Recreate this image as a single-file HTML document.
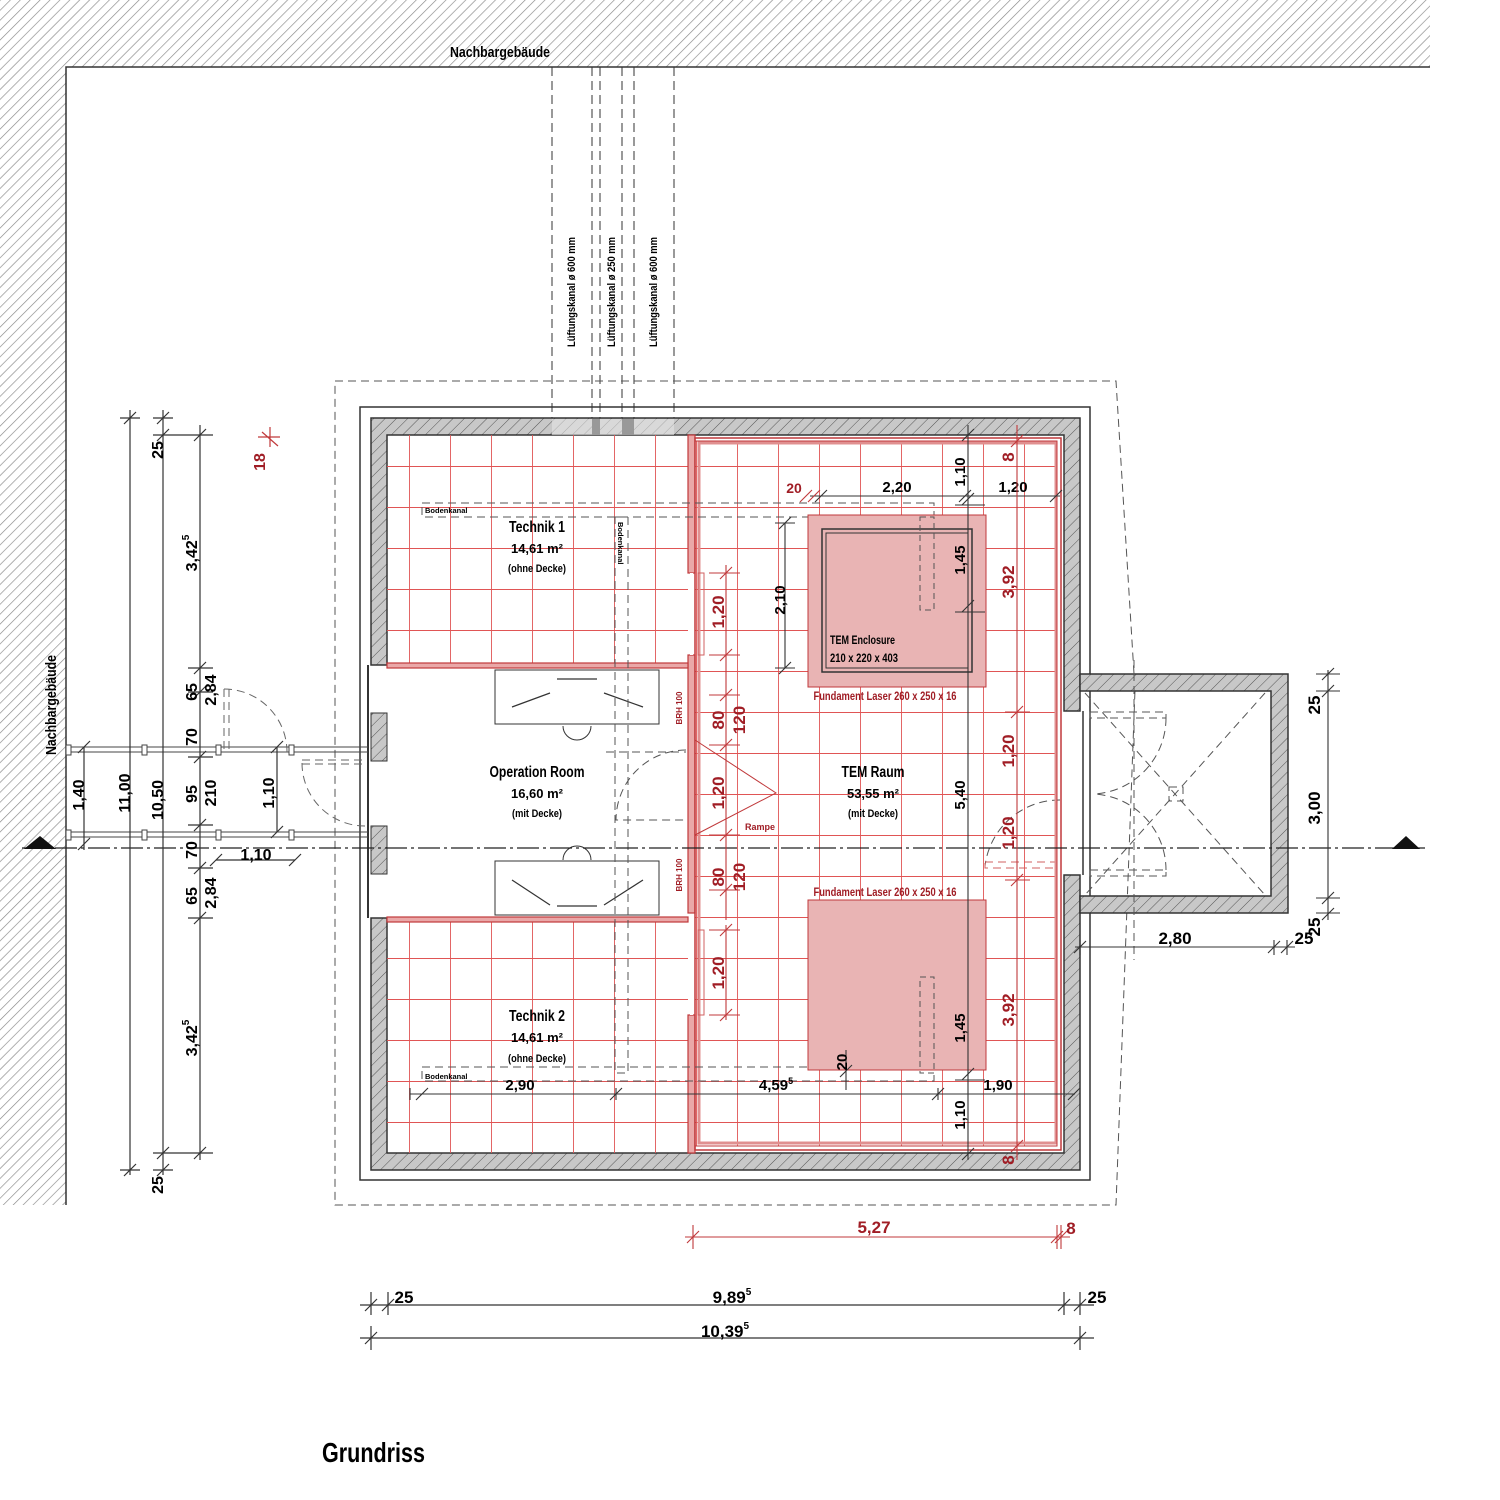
<!DOCTYPE html>
<html><head><meta charset="utf-8"><style>
html,body{margin:0;padding:0;background:#fff}
svg{display:block}
text{font-family:"Liberation Sans Narrow","Liberation Sans",sans-serif;font-weight:bold}
</style></head><body>
<svg width="1500" height="1500" viewBox="0 0 1500 1500" xmlns="http://www.w3.org/2000/svg">
<defs>
<pattern id="hatch" width="7" height="7" patternUnits="userSpaceOnUse" patternTransform="rotate(45)">
<rect width="7" height="7" fill="#fff"/><line x1="0" y1="0" x2="0" y2="7" stroke="#888" stroke-width="1.3"/></pattern>
<pattern id="whatch" width="8" height="8" patternUnits="userSpaceOnUse" patternTransform="rotate(45)">
<rect width="8" height="8" fill="#c8c8c8"/><line x1="0" y1="0" x2="0" y2="8" stroke="#555" stroke-width="1"/></pattern>
<pattern id="grid" x="409" y="466" width="41" height="41" patternUnits="userSpaceOnUse">
<line x1="0.5" y1="0" x2="0.5" y2="41" stroke="#e05555" stroke-width="0.9"/>
<line x1="0" y1="0.5" x2="41" y2="0.5" stroke="#e05555" stroke-width="0.9"/></pattern>
</defs>

<rect x="0" y="0" width="1430" height="67" fill="url(#hatch)"/>
<rect x="0" y="0" width="66" height="1205" fill="url(#hatch)"/>
<polyline points="66,1205 66,67 1430,67" fill="none" stroke="#333" stroke-width="1.5"/>
<text x="500" y="57" font-size="15" text-anchor="middle" textLength="100" lengthAdjust="spacingAndGlyphs">Nachbargebäude</text>
<text transform="translate(56,705) rotate(-90)" font-size="15" text-anchor="middle" textLength="100" lengthAdjust="spacingAndGlyphs">Nachbargebäude</text>

<g stroke="#333" stroke-width="1" stroke-dasharray="9,5" fill="none">
<line x1="552" y1="67" x2="552" y2="435"/><line x1="592" y1="67" x2="592" y2="435"/>
<line x1="600" y1="67" x2="600" y2="435"/><line x1="622" y1="67" x2="622" y2="435"/>
<line x1="634" y1="67" x2="634" y2="435"/><line x1="674" y1="67" x2="674" y2="435"/>
</g>
<text transform="translate(575,292) rotate(-90)" font-size="11" text-anchor="middle" textLength="110" lengthAdjust="spacingAndGlyphs">Lüftungskanal ø 600 mm</text>
<text transform="translate(615,292) rotate(-90)" font-size="11" text-anchor="middle" textLength="110" lengthAdjust="spacingAndGlyphs">Lüftungskanal ø 250 mm</text>
<text transform="translate(657,292) rotate(-90)" font-size="11" text-anchor="middle" textLength="110" lengthAdjust="spacingAndGlyphs">Lüftungskanal ø 600 mm</text>

<polygon points="335,381 1116,381 1135,690 1116,1205 335,1205" fill="none" stroke="#555" stroke-width="1" stroke-dasharray="8,5"/>
<rect x="360" y="407" width="730" height="773" fill="none" stroke="#333" stroke-width="1.5"/>

<path d="M371,418 H1080 V711 H1064 V435 H387 V665 H371 Z" fill="url(#whatch)" stroke="#333" stroke-width="1.5"/>
<path d="M371,918 H387 V1153 H1064 V875 H1080 V1170 H371 Z" fill="url(#whatch)" stroke="#333" stroke-width="1.5"/>
<rect x="552" y="419" width="122" height="16" fill="#e4e4e4" opacity="0.6"/>
<rect x="592" y="419" width="8" height="16" fill="#999"/><rect x="622" y="419" width="12" height="16" fill="#999"/>
<rect x="371" y="713" width="16" height="48" fill="url(#whatch)" stroke="#333"/>
<rect x="371" y="826" width="16" height="48" fill="url(#whatch)" stroke="#333"/>
<line x1="368" y1="665" x2="368" y2="918" stroke="#333" stroke-width="2"/>

<path d="M1080,674 H1288 V913 H1080 V896 H1271 V691 H1080 Z" fill="url(#whatch)" stroke="#333" stroke-width="1.5"/>
<line x1="1083" y1="711" x2="1083" y2="875" stroke="#333" stroke-width="1.5"/>
<g stroke="#555" stroke-width="1" stroke-dasharray="8,5" fill="none">
<line x1="1085" y1="693" x2="1265" y2="895"/><line x1="1265" y1="693" x2="1085" y2="895"/>
<line x1="1134" y1="660" x2="1134" y2="960"/>
<rect x="1090" y="712" width="76" height="6"/><rect x="1090" y="870" width="76" height="6"/>
<path d="M1166,718 A76,76 0 0 1 1094,794"/><path d="M1166,870 A76,76 0 0 0 1094,794"/>
<rect x="1169" y="787" width="14" height="14"/>
<path d="M1060,800 A75,75 0 0 0 985,866"/>
<rect x="985" y="862" width="70" height="6" stroke="#d06060"/>
</g>

<rect x="387" y="435" width="301" height="228" fill="url(#grid)"/>
<rect x="387" y="922" width="301" height="231" fill="url(#grid)"/>
<rect x="695" y="441" width="362" height="705" fill="url(#grid)"/>

<g fill="#eaa8a8" stroke="#c0393b" stroke-width="1.2">
<rect x="688" y="435" width="7" height="138"/>
<rect x="688" y="655" width="7" height="258"/>
<rect x="688" y="1015" width="7" height="138"/>
<rect x="387" y="663" width="301" height="5"/>
<rect x="387" y="917" width="301" height="5"/>
</g>
<rect x="690" y="573" width="3" height="82" fill="#fff"/>
<rect x="690" y="930" width="3" height="85" fill="#fff"/>
<rect x="695" y="438" width="366" height="712" fill="none" stroke="#c0393b" stroke-width="1.5"/>
<rect x="699" y="443" width="357" height="700" fill="none" stroke="#e09090" stroke-width="3"/>
<rect x="695" y="441" width="362" height="705" fill="none" stroke="#c0393b" stroke-width="1"/>
<polyline points="695,740 776,793 695,835" fill="none" stroke="#c0393b" stroke-width="1"/>
<text x="760" y="830" font-size="9" fill="#a01d25" text-anchor="middle">Rampe</text>
<text transform="translate(682,708) rotate(-90)" font-size="8" fill="#a01d25" text-anchor="middle">BRH 100</text>
<text transform="translate(682,875) rotate(-90)" font-size="8" fill="#a01d25" text-anchor="middle">BRH 100</text>
<rect x="698" y="573" width="6" height="82" fill="none" stroke="#d06060"/>
<rect x="698" y="930" width="6" height="85" fill="none" stroke="#d06060"/>

<rect x="495" y="670" width="164" height="54" fill="#fff" stroke="#333"/>
<rect x="495" y="861" width="164" height="54" fill="#fff" stroke="#333"/>
<g stroke="#333" stroke-width="1.2"><line x1="512" y1="707" x2="550" y2="693"/><line x1="557" y1="679" x2="597" y2="679"/><line x1="604" y1="693" x2="643" y2="707"/>
<line x1="512" y1="880" x2="550" y2="905"/><line x1="557" y1="906" x2="597" y2="906"/><line x1="604" y1="905" x2="643" y2="880"/></g>
<path d="M563,726 A14,14 0 0 0 591,726" fill="none" stroke="#333"/>
<path d="M563,860 A14,14 0 0 1 591,860" fill="none" stroke="#333"/>
<g stroke="#555" stroke-width="1" stroke-dasharray="8,5" fill="none">
<path d="M686,750 A70,70 0 0 0 616,820 L686,820"/>
<line x1="606" y1="752" x2="686" y2="752"/>
<rect x="422" y="503" width="512" height="14"/><rect x="615" y="517" width="13" height="556"/>
<rect x="422" y="1067" width="512" height="14"/>
</g>
<text x="425" y="513" font-size="7.5">Bodenkanal</text>
<text x="425" y="1079" font-size="7.5">Bodenkanal</text>
<text transform="translate(618,522) rotate(90)" font-size="7.5">Bodenkanal</text>

<rect x="808" y="515" width="178" height="172" fill="#e9b4b4" stroke="#c0393b" stroke-width="1"/>
<rect x="822" y="529" width="150" height="143" fill="none" stroke="#333" stroke-width="1.5"/>
<rect x="826" y="533" width="142" height="135" fill="none" stroke="#333" stroke-width="1"/>
<rect x="808" y="900" width="178" height="170" fill="#e9b4b4" stroke="#c0393b" stroke-width="1"/>
<g stroke="#555" stroke-dasharray="6,4" fill="none"><rect x="920" y="517" width="14" height="93"/><rect x="920" y="977" width="14" height="96"/></g>
<text x="830" y="644" font-size="12" textLength="65" lengthAdjust="spacingAndGlyphs">TEM Enclosure</text>
<text x="830" y="662" font-size="12" textLength="68" lengthAdjust="spacingAndGlyphs">210 x 220 x 403</text>
<text x="885" y="700" font-size="12" fill="#a01d25" text-anchor="middle" textLength="143" lengthAdjust="spacingAndGlyphs">Fundament Laser 260 x 250 x 16</text>
<text x="885" y="896" font-size="12" fill="#a01d25" text-anchor="middle" textLength="143" lengthAdjust="spacingAndGlyphs">Fundament Laser 260 x 250 x 16</text>

<g text-anchor="middle">
<text x="537" y="532" font-size="16" textLength="56" lengthAdjust="spacingAndGlyphs">Technik 1</text><text x="537" y="553" font-size="13">14,61 m²</text><text x="537" y="572" font-size="11" textLength="58" lengthAdjust="spacingAndGlyphs">(ohne Decke)</text>
<text x="537" y="777" font-size="16" textLength="95" lengthAdjust="spacingAndGlyphs">Operation Room</text><text x="537" y="798" font-size="13">16,60 m²</text><text x="537" y="817" font-size="11" textLength="50" lengthAdjust="spacingAndGlyphs">(mit Decke)</text>
<text x="873" y="777" font-size="16" textLength="63" lengthAdjust="spacingAndGlyphs">TEM Raum</text><text x="873" y="798" font-size="13">53,55 m²</text><text x="873" y="817" font-size="11" textLength="50" lengthAdjust="spacingAndGlyphs">(mit Decke)</text>
<text x="537" y="1021" font-size="16" textLength="56" lengthAdjust="spacingAndGlyphs">Technik 2</text><text x="537" y="1042" font-size="13">14,61 m²</text><text x="537" y="1062" font-size="11" textLength="58" lengthAdjust="spacingAndGlyphs">(ohne Decke)</text>
</g>

<line x1="22" y1="848" x2="1425" y2="848" stroke="#222" stroke-width="1.2" stroke-dasharray="22,4,3,4"/>
<polygon points="24,849 40,836 56,849" fill="#111"/><polygon points="1392,849 1406,836 1420,849" fill="#111"/>

<g stroke="#444" stroke-width="1" fill="#fff">
<line x1="66" y1="747" x2="368" y2="747"/><line x1="66" y1="752" x2="368" y2="752"/>
<line x1="66" y1="832" x2="368" y2="832"/><line x1="66" y1="837" x2="368" y2="837"/>
<rect x="142" y="745" width="5" height="10"/><rect x="216" y="745" width="5" height="10"/><rect x="289" y="745" width="5" height="10"/>
<rect x="142" y="830" width="5" height="10"/><rect x="216" y="830" width="5" height="10"/><rect x="289" y="830" width="5" height="10"/>
<rect x="66" y="745" width="5" height="10"/><rect x="66" y="830" width="5" height="10"/>
</g>
<g stroke="#666" stroke-dasharray="8,5" fill="none"><path d="M224,689 A63,63 0 0 1 287,752"/><line x1="224" y1="689" x2="224" y2="752"/><line x1="229" y1="689" x2="229" y2="752"/>
<path d="M302,763 A63,63 0 0 0 365,826"/><line x1="302" y1="760" x2="365" y2="760"/><line x1="302" y1="764" x2="365" y2="764"/></g>

<g stroke="#333" stroke-width="1.2" fill="none">
<line x1="130" y1="410" x2="130" y2="1175"/><line x1="163" y1="410" x2="163" y2="1175"/><line x1="200" y1="425" x2="200" y2="1160"/>
<line x1="84" y1="747" x2="84" y2="850"/><line x1="277" y1="747" x2="277" y2="832"/><line x1="216" y1="860" x2="295" y2="860"/>
<line x1="120" y1="418" x2="140" y2="418"/><line x1="120" y1="1170" x2="140" y2="1170"/>
<line x1="153" y1="418" x2="173" y2="418"/><line x1="153" y1="435" x2="213" y2="435"/><line x1="153" y1="1153" x2="213" y2="1153"/><line x1="153" y1="1170" x2="173" y2="1170"/>
<line x1="188" y1="668" x2="213" y2="668"/><line x1="188" y1="692" x2="213" y2="692"/><line x1="188" y1="757" x2="213" y2="757"/><line x1="188" y1="825" x2="213" y2="825"/><line x1="188" y1="868" x2="213" y2="868"/><line x1="188" y1="918" x2="213" y2="918"/>
</g>
<g stroke="#c0393b" stroke-width="1.2"><path d="M262,432 L278,446 M270,427 V447 M258,437 H280"/></g>
<g stroke="#333" stroke-width="1.2">
<path d="M124,424 L136,412 M124,1176 L136,1164 M157,424 L169,412 M157,441 L169,429 M157,1159 L169,1147 M157,1176 L169,1164 M194,441 L206,429 M194,674 L206,662 M194,698 L206,686 M194,763 L206,751 M194,831 L206,819 M194,874 L206,862 M194,924 L206,912 M194,1159 L206,1147 M78,753 L90,741 M78,850 L90,838 M271,753 L283,741 M271,838 L283,826 M210,866 L222,854 M289,866 L301,854"/>
</g>
<g font-size="16" text-anchor="middle">
<text transform="translate(130,793) rotate(-90)">11,00</text>
<text transform="translate(163,800) rotate(-90)">10,50</text>
<text transform="translate(163,450) rotate(-90)">25</text>
<text transform="translate(163,1185) rotate(-90)">25</text>
<text transform="translate(197,553) rotate(-90)">3,42<tspan font-size="10" dy="-8">5</tspan></text>
<text transform="translate(197,1038) rotate(-90)">3,42<tspan font-size="10" dy="-8">5</tspan></text>
<text transform="translate(197,692) rotate(-90)">65</text>
<text transform="translate(197,737) rotate(-90)">70</text>
<text transform="translate(197,794) rotate(-90)">95</text>
<text transform="translate(197,850) rotate(-90)">70</text>
<text transform="translate(197,896) rotate(-90)">65</text>
<text transform="translate(216,690) rotate(-90)">2,84</text>
<text transform="translate(216,793) rotate(-90)">210</text>
<text transform="translate(216,893) rotate(-90)">2,84</text>
<text transform="translate(84,795) rotate(-90)">1,40</text>
<text transform="translate(274,793) rotate(-90)">1,10</text>
<text x="256" y="860">1,10</text>
<text transform="translate(265,462) rotate(-90)" fill="#a01d25">18</text>
</g>

<g stroke="#333" stroke-width="1.1" fill="none">
<line x1="810" y1="496" x2="1060" y2="496"/>
<line x1="968" y1="425" x2="968" y2="1160"/>
<line x1="785" y1="523" x2="785" y2="668"/>
<line x1="410" y1="1094" x2="1075" y2="1094"/>
<line x1="846" y1="1050" x2="846" y2="1090"/>
<line x1="1075" y1="947" x2="1295" y2="947"/>
<line x1="1328" y1="670" x2="1328" y2="920"/>
</g>
<g stroke="#333" stroke-width="1.1">
<path d="M815,502 L827,490 M959,502 L971,490 M1050,502 L1062,490 M962,441 L974,429 M962,505 L974,493 M962,612 L974,600 M779,529 L791,517 M779,674 L791,662 M416,1100 L428,1088 M610,1100 L622,1088 M932,1100 L944,1088 M1068,1100 L1080,1088 M962,1080 L974,1068 M962,1160 L974,1148 M840,1077 L852,1065 M1074,953 L1086,941 M1268,953 L1280,941 M1281,953 L1293,941 M1322,680 L1334,668 M1322,697 L1334,685 M1322,904 L1334,892 M1322,920 L1334,908"/>
<path d="M775,523 H795 M775,668 H795 M955,612 H985 M955,505 H985 M955,1080 H985 M410,1088 V1100 M616,1088 V1100 M938,1088 V1100 M1316,674 H1340 M1316,691 H1340 M1316,898 H1340 M1316,913 H1340 M1080,940 V955 M1274,940 V955 M1287,940 V955"/>
</g>
<g font-size="15" text-anchor="middle">
<text x="897" y="492">2,20</text><text x="1013" y="492">1,20</text>
<text transform="translate(965,472) rotate(-90)">1,10</text>
<text transform="translate(965,560) rotate(-90)">1,45</text>
<text transform="translate(785,600) rotate(-90)">2,10</text>
<text transform="translate(965,795) rotate(-90)">5,40</text>
<text transform="translate(965,1028) rotate(-90)">1,45</text>
<text transform="translate(965,1115) rotate(-90)">1,10</text>
<text transform="translate(847,1062) rotate(-90)">20</text>
<text x="520" y="1090">2,90</text><text x="776" y="1090">4,59<tspan font-size="9" dy="-6">5</tspan></text><text x="998" y="1090">1,90</text>
<text x="1175" y="944" font-size="17">2,80</text>
<text x="1304" y="944" font-size="17">25</text>
<text transform="translate(1320,808) rotate(-90)" font-size="17">3,00</text>
<text transform="translate(1320,705) rotate(-90)" font-size="17">25</text>
<text transform="translate(1320,927) rotate(-90)" font-size="17">25</text>
</g>

<g stroke="#c0393b" stroke-width="1.1" fill="none">
<line x1="726" y1="565" x2="726" y2="920"/><line x1="726" y1="925" x2="726" y2="1020"/>
<line x1="1017" y1="425" x2="1017" y2="1160"/>
<line x1="685" y1="1237" x2="1070" y2="1237"/>
<path d="M709,573 H740 M709,655 H740 M709,695 H740 M709,745 H740 M709,835 H740 M709,890 H740 M709,930 H740 M709,1015 H740 M1005,441 H1030 M1005,712 H1030 M1005,880 H1030 M1005,1146 H1030 M693,1225 V1249 M1057,1225 V1249 M1061,1225 V1249"/>
<path d="M720,579 L732,567 M720,661 L732,649 M720,701 L732,689 M720,751 L732,739 M720,841 L732,829 M720,896 L732,884 M720,936 L732,924 M720,1021 L732,1009 M1011,447 L1023,435 M1011,718 L1023,706 M1011,886 L1023,874 M1011,1152 L1023,1140 M687,1243 L699,1231 M1051,1243 L1063,1231 M1055,1243 L1067,1231 M800,502 L812,490 M808,502 L820,490"/>
</g>
<g font-size="17" fill="#a01d25" text-anchor="middle">
<text transform="translate(724,612) rotate(-90)">1,20</text>
<text transform="translate(724,720) rotate(-90)">80</text>
<text transform="translate(745,720) rotate(-90)">120</text>
<text transform="translate(724,793) rotate(-90)">1,20</text>
<text transform="translate(724,877) rotate(-90)">80</text>
<text transform="translate(745,877) rotate(-90)">120</text>
<text transform="translate(724,973) rotate(-90)">1,20</text>
<text transform="translate(1014,582) rotate(-90)">3,92</text>
<text transform="translate(1014,751) rotate(-90)">1,20</text>
<text transform="translate(1014,833) rotate(-90)">1,20</text>
<text transform="translate(1014,1010) rotate(-90)">3,92</text>
<text transform="translate(1014,457) rotate(-90)">8</text>
<text transform="translate(1014,1160) rotate(-90)">8</text>
<text x="794" y="493" font-size="14">20</text>
<text x="874" y="1233">5,27</text>
<text x="1071" y="1234">8</text>
</g>

<g stroke="#333" stroke-width="1.2" fill="none">
<line x1="360" y1="1305" x2="1094" y2="1305"/><line x1="360" y1="1338" x2="1094" y2="1338"/>
<path d="M371,1292 V1315 M388,1292 V1315 M1064,1292 V1315 M1080,1292 V1315 M371,1326 V1350 M1080,1326 V1350"/>
<path d="M365,1311 L377,1299 M382,1311 L394,1299 M1058,1311 L1070,1299 M1074,1311 L1086,1299 M365,1344 L377,1332 M1074,1344 L1086,1332"/>
</g>
<g font-size="17" text-anchor="middle">
<text x="404" y="1303">25</text><text x="732" y="1303">9,89<tspan font-size="10" dy="-8">5</tspan></text><text x="1097" y="1303">25</text>
<text x="725" y="1337">10,39<tspan font-size="10" dy="-8">5</tspan></text>
</g>
<text x="322" y="1462" font-size="28" textLength="103" lengthAdjust="spacingAndGlyphs">Grundriss</text>
</svg>
</body></html>
